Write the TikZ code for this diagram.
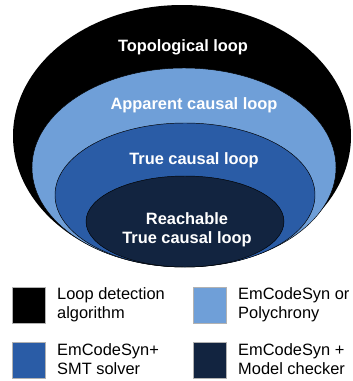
\documentclass[tikz,border=0pt]{standalone}
\usepackage{fontspec}
\setmainfont{Liberation Sans}
\usepackage{xcolor}
\tikzset{
    %Define standard label styles
    loopLabel/.style={text=white,font=\fontsize{14}{16.3}\selectfont\bfseries,align=center},
    legText/.style={anchor=west,font=\fontsize{14}{16.3}\selectfont,align=left,inner sep=0pt},
    legBox/.style={draw=gray!60,line width=0.4pt}
}
\definecolor{lightBlue}{RGB}{111,159,216}
\definecolor{midBlue}{RGB}{42,92,166}
\definecolor{navy}{RGB}{18,36,64}
\def\legItem#1#2#3#4 {
	\begin{scope}[shift={#4}]
		\fill[#2,legBox] (0,0) rectangle (33,36);
		\node[legText] (#1) at (45,17.5) {#3};
	\end{scope}
}

\begin{document}
\begin{tikzpicture}[x=0.3mm,y=-0.3mm]
    \useasboundingbox (0,0) rectangle (352,381);
    % nested loop classes
    \fill[black] (182,136) ellipse [x radius=169,y radius=131];
    \draw[fill=lightBlue,thin] (184,167.5) ellipse [x radius=152,y radius=99.5];
    \draw[fill=midBlue,thin] (185,195) ellipse [x radius=130,y radius=72];
    \draw[fill=navy,thin] (185,221.5) ellipse [x radius=99,y radius=45.5];
    \node[loopLabel] (topo) at (183,47) {Topological loop};
    \node[loopLabel] (appar) at (194,105) {Apparent causal loop};
    \node[loopLabel] (truel) at (194,160) {True causal loop};
    \node[loopLabel] (reach) at (187,229.5) {Reachable\\True causal loop};
    % legend
    \legItem{ldet}{black}{Loop detection\\algorithm}{(12,287)}
    \legItem{ecsp}{lightBlue}{EmCodeSyn or\\Polychrony}{(193,287)}
    \legItem{smt}{midBlue}{EmCodeSyn+\\SMT solver}{(12,342)}
    \legItem{mchk}{navy}{EmCodeSyn +\\Model checker}{(193,342)}
\end{tikzpicture}
\end{document}
